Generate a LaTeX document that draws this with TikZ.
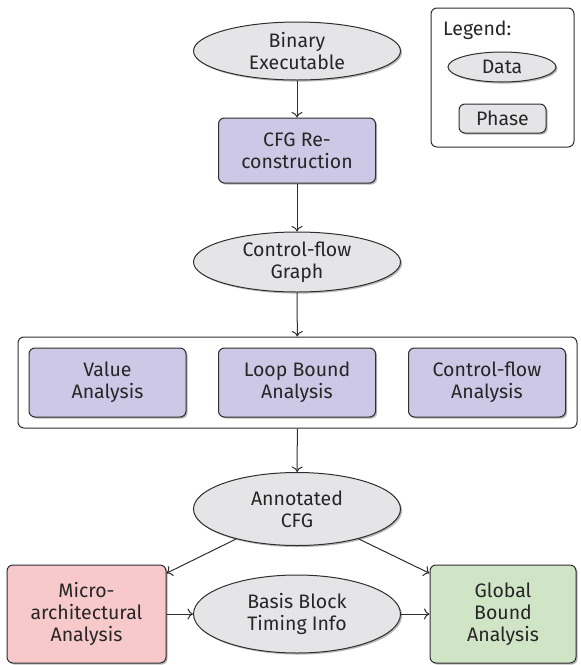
\documentclass[tikz,border=0pt]{standalone}
\usepackage{fontspec}
\setmainfont{Fira Sans}
\usetikzlibrary{shapes.geometric,shadows,arrows.meta}
\definecolor{linec}{HTML}{2E2E2E}
\definecolor{textc}{HTML}{262626}
\definecolor{datafill}{HTML}{E5E5E8}
\definecolor{phasefill}{HTML}{CCC8E6}
\definecolor{redfill}{HTML}{F8C9CA}
\definecolor{greenfill}{HTML}{CFE5C6}
\begin{document}
\begin{tikzpicture}[x=1pt,y=-1pt,
  font=\fontsize{19.5}{22}\selectfont, text=textc,
  shade/.style={drop shadow={shadow xshift=1.6pt,shadow yshift=-1.6pt,fill=black!35,opacity=0.8}},
  datanode/.style={ellipse,draw=linec,line width=1pt,fill=datafill,shade,
    minimum width=207pt,minimum height=#1,inner sep=0pt,align=center},
  phasebox/.style={rectangle,rounded corners=6pt,draw=linec,line width=1pt,fill=phasefill,shade,
    minimum width=157pt,minimum height=#1,inner sep=0pt,align=center},
  frame/.style={rectangle,rounded corners=6pt,draw=linec,line width=1pt,fill=white,inner sep=0pt},
  arr/.style={-{To[length=5.5pt,width=11pt]},draw=linec,line width=1pt}]
\useasboundingbox (0,0) rectangle (581,665);

% legend
\node[frame,minimum width=143pt,minimum height=139pt] (legend) at (502.5,77.5) {};
\node[anchor=base west,inner sep=0pt] (legtitle) at (443,35) {Legend:};
\node[ellipse,draw=linec,line width=1pt,fill=datafill,shade,minimum width=108pt,minimum height=30pt,inner sep=0pt] (legdata) at (502,67) {Data};
\node[rectangle,rounded corners=6pt,draw=linec,line width=1pt,fill=datafill,shade,minimum width=87pt,minimum height=29pt,inner sep=0pt] (legphase) at (502.5,118.5) {Phase};

% main flow
\node[datanode=58pt] (binary) at (297,51) {Binary\\Executable};
\node[phasebox=65pt] (cfgrec) at (297,150.5) {CFG Re-\\construction};
\node[datanode=60pt] (cfg) at (297,262) {Control-flow\\Graph};

\node[frame,minimum width=559pt,minimum height=91pt] (group) at (297.5,382.5) {};
\node[phasebox=69pt] (value) at (107.5,382.5) {Value\\Analysis};
\node[phasebox=69pt] (loop) at (297,382.5) {Loop Bound\\Analysis};
\node[phasebox=69pt] (cflow) at (487,382.5) {Control-flow\\Analysis};

\node[datanode=73pt] (ann) at (297,509) {Annotated\\CFG};
\node[rectangle,rounded corners=6pt,draw=linec,line width=1pt,fill=redfill,shade,
  minimum width=159pt,minimum height=98pt,inner sep=0pt,align=center] (micro) at (86.5,614) {Micro-\\architectural\\Analysis};
\node[datanode=78pt] (basis) at (297,614) {Basis Block\\Timing Info};
\node[rectangle,rounded corners=6pt,draw=linec,line width=1pt,fill=greenfill,shade,
  minimum width=146pt,minimum height=98pt,inner sep=0pt,align=center] (global) at (503,614) {Global\\Bound\\Analysis};

\draw[arr] (binary) -- (cfgrec);
\draw[arr] (cfgrec) -- (cfg);
\draw[arr] (cfg) -- (group);
\draw[arr] (group) -- (ann);
\draw[arr] (ann) -- (micro.27);
\draw[arr] (ann) -- (global.151);
\draw[arr] (micro) -- (basis);
\draw[arr] (basis) -- (global);
\end{tikzpicture}
\end{document}
